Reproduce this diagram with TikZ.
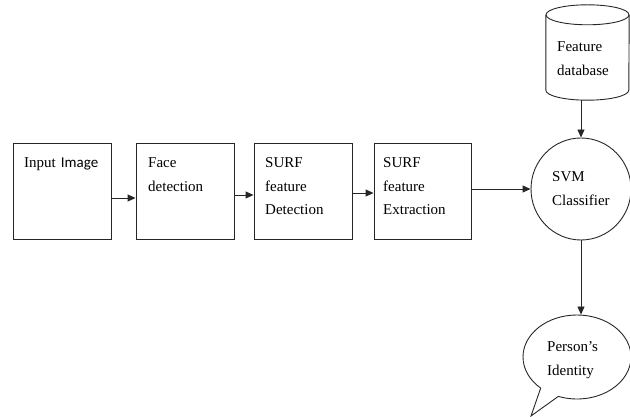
\documentclass[tikz,border=0pt]{standalone}
\usepackage{fontspec}
\setmainfont{Liberation Serif}
\newfontfamily\imgfont{Carlito}
\usetikzlibrary{arrows.meta,shapes.geometric,shapes.callouts}
\tikzset{
  x=1pt,y=1pt,
  line/.style={draw=black!85,line width=0.9pt},
  procbox/.style={line,rectangle,minimum width=98pt,minimum height=96pt,inner sep=0pt},
  lbl/.style={anchor=base west,inner sep=0pt,align=left,text width=80pt,
    font=\fontsize{15}{23.5}\selectfont},
  arr/.style={line,-{Triangle[length=8pt,width=7pt]}},
}
\begin{document}
\begin{tikzpicture}
\useasboundingbox (0,0) rectangle (630,417);
% process boxes
\node[procbox] (b1) at (62,226) {};
\node[procbox] (b2) at (185,226) {};
\node[procbox] (b3) at (303,226) {};
\node[procbox,minimum width=97pt] (b4) at (422.5,226) {};
\node[lbl] (t1) at (24,249) {Input {\imgfont Image}};
\node[lbl] (t2) at (148,249) {Face\\detection};
\node[lbl] (t3) at (265,249) {SURF\\feature\\Detection};
\node[lbl] (t4) at (383,249) {SURF\\feature\\Extraction};
% classifier
\node[line,ellipse,minimum width=100pt,minimum height=102pt,inner sep=0pt] (svm) at (581,228) {};
\node[lbl] (t5) at (552,235) {SVM\\Classifier};
% database cylinder
\node[rectangle,minimum width=83pt,minimum height=95pt,inner sep=0pt] (db) at (587.5,364.5) {};
\draw[line] (db.north west) ++(0,-10) coordinate (dbtl) -- ([yshift=10pt]db.south west)
  arc[start angle=180,end angle=360,x radius=41.5,y radius=10] -- ([yshift=-10pt]db.north east);
\draw[line] ([yshift=-10pt]db.north) ellipse[x radius=41.5,y radius=10];
\node[lbl] (t6) at (557,365) {Feature\\[0.5pt]database};
% identity callout
\node[line,ellipse callout,minimum width=108pt,minimum height=84pt,inner sep=0pt,
  callout absolute pointer={(531,1)},callout pointer arc=22] (id) at (577,60) {};
\node[lbl] (t7) at (547,65) {Person’s\\Identity};
% connectors
\draw[arr] ([yshift=-7pt]b1.east) -- ([yshift=-7pt]b2.west);
\draw[arr] ([yshift=-4pt]b2.east) -- ([yshift=-4pt]b3.west);
\draw[arr] ([yshift=-2pt]b3.east) -- ([yshift=-2pt]b4.west);
\draw[arr] ([yshift=2pt]b4.east) -- (svm.west);
\draw[arr] (db.south -| svm.north) -- (svm.north);
\draw[arr] (svm.south) -- (svm.south |- id.north);
\end{tikzpicture}
\end{document}
